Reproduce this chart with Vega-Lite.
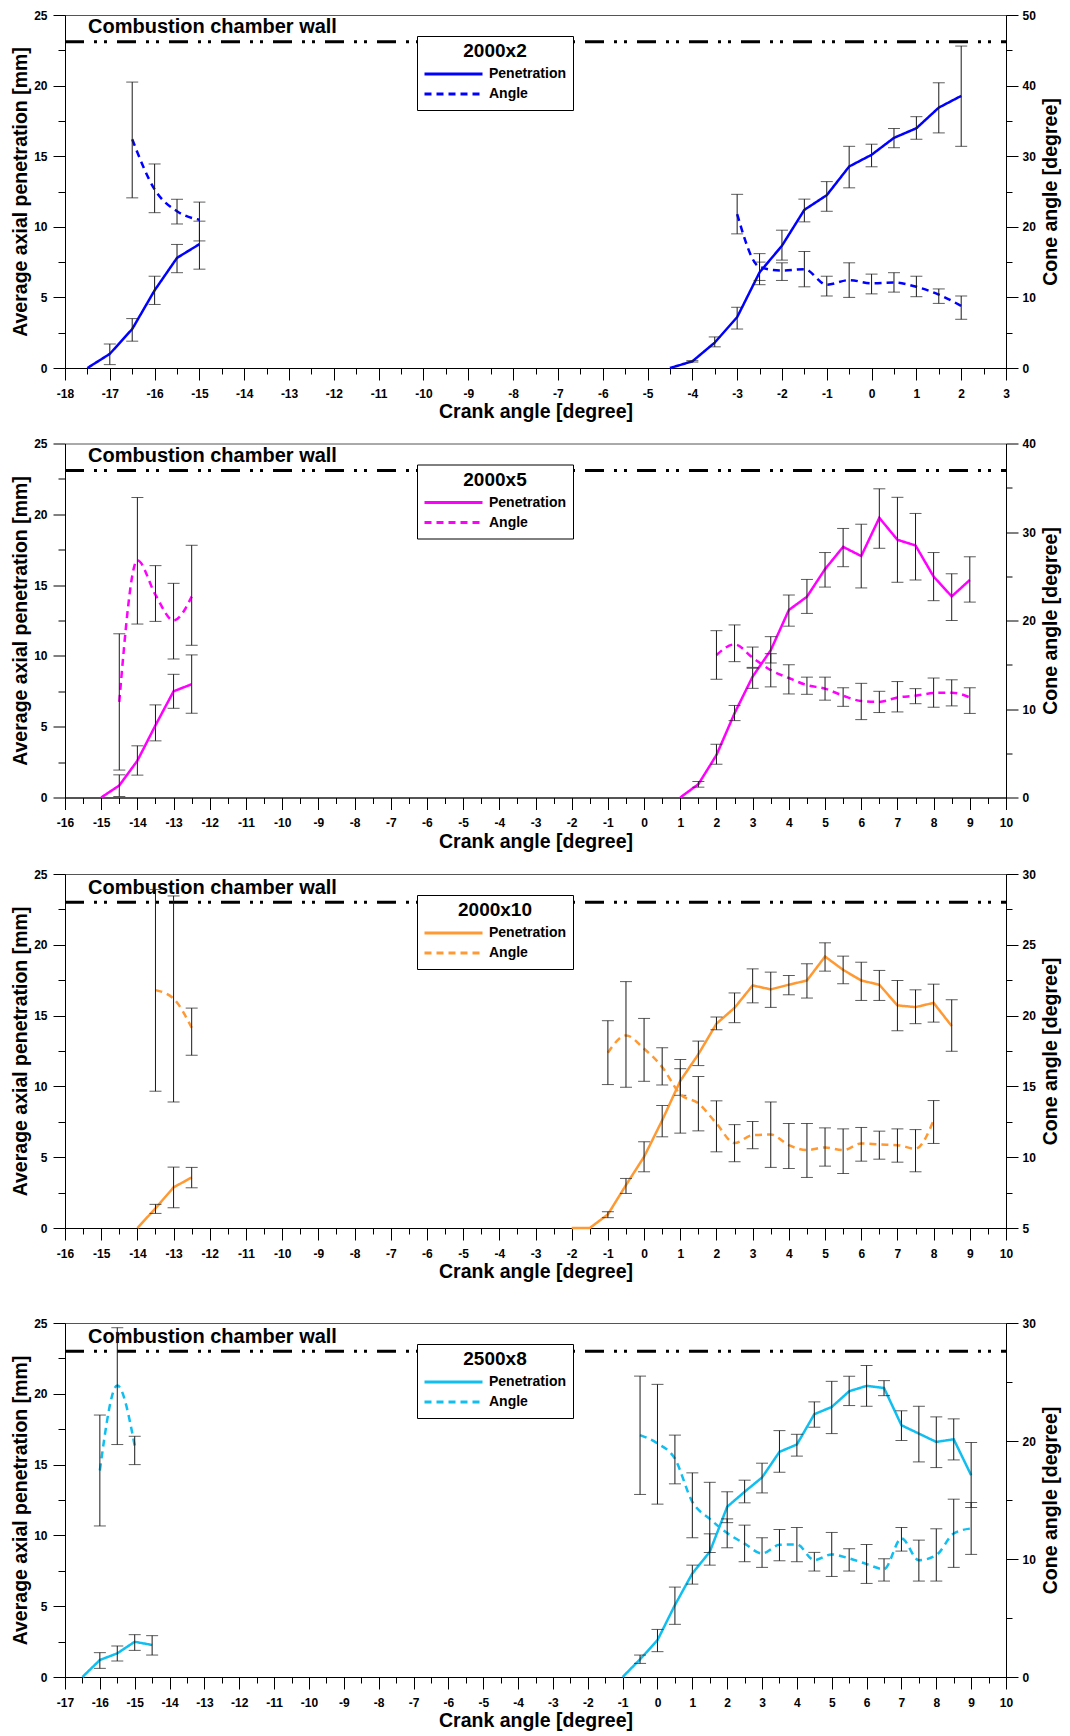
{
  "$schema": "https://vega.github.io/schema/vega-lite/v6.json",
  "padding": {"top": 8, "left": 9, "right": 4, "bottom": 4},
  "datasets": {
    "d2000x2": [
      {"series": "Penetration", "part": 1, "crank": -17.5, "value": 0},
      {"series": "Penetration", "part": 1, "crank": -17, "value": 1.0, "lo": 0.24, "hi": 1.7},
      {"series": "Penetration", "part": 1, "crank": -16.5, "value": 2.76, "lo": 1.9, "hi": 3.5},
      {"series": "Penetration", "part": 1, "crank": -16, "value": 5.5, "lo": 4.5, "hi": 6.5},
      {"series": "Penetration", "part": 1, "crank": -15.5, "value": 7.8, "lo": 6.75, "hi": 8.75},
      {"series": "Penetration", "part": 1, "crank": -15, "value": 8.77, "lo": 7.0, "hi": 10.4},
      {"series": "Penetration", "part": 2, "crank": -4.5, "value": 0},
      {"series": "Penetration", "part": 2, "crank": -4, "value": 0.47, "lo": 0.42, "hi": 0.52},
      {"series": "Penetration", "part": 2, "crank": -3.5, "value": 1.8, "lo": 1.5, "hi": 2.2},
      {"series": "Penetration", "part": 2, "crank": -3, "value": 3.6, "lo": 2.76, "hi": 4.3},
      {"series": "Penetration", "part": 2, "crank": -2.5, "value": 6.77, "lo": 5.9, "hi": 7.5},
      {"series": "Penetration", "part": 2, "crank": -2, "value": 8.66, "lo": 7.64, "hi": 9.76},
      {"series": "Penetration", "part": 2, "crank": -1.5, "value": 11.2, "lo": 10.35, "hi": 11.96},
      {"series": "Penetration", "part": 2, "crank": -1, "value": 12.24, "lo": 11.1, "hi": 13.2},
      {"series": "Penetration", "part": 2, "crank": -0.5, "value": 14.27, "lo": 12.76, "hi": 15.7},
      {"series": "Penetration", "part": 2, "crank": 0, "value": 15.1, "lo": 14.25, "hi": 15.85},
      {"series": "Penetration", "part": 2, "crank": 0.5, "value": 16.3, "lo": 15.6, "hi": 16.96},
      {"series": "Penetration", "part": 2, "crank": 1, "value": 16.98, "lo": 16.2, "hi": 17.8},
      {"series": "Penetration", "part": 2, "crank": 1.5, "value": 18.44, "lo": 16.65, "hi": 20.2},
      {"series": "Penetration", "part": 2, "crank": 2, "value": 19.27, "lo": 15.7, "hi": 22.8},
      {"series": "Angle", "part": 1, "crank": -16.5, "value": 32.4, "lo": 24.1, "hi": 40.5},
      {"series": "Angle", "part": 1, "crank": -16, "value": 25.3, "lo": 22.0, "hi": 28.9},
      {"series": "Angle", "part": 1, "crank": -15.5, "value": 22.2, "lo": 20.4, "hi": 23.9},
      {"series": "Angle", "part": 1, "crank": -15, "value": 21.0, "lo": 18.0, "hi": 23.5},
      {"series": "Angle", "part": 2, "crank": -3, "value": 21.8, "lo": 19.0, "hi": 24.6},
      {"series": "Angle", "part": 2, "crank": -2.5, "value": 14.3, "lo": 12.4, "hi": 16.2},
      {"series": "Angle", "part": 2, "crank": -2, "value": 13.8, "lo": 12.4, "hi": 14.9},
      {"series": "Angle", "part": 2, "crank": -1.5, "value": 14.0, "lo": 11.5, "hi": 16.5},
      {"series": "Angle", "part": 2, "crank": -1, "value": 11.8, "lo": 10.2, "hi": 13.0},
      {"series": "Angle", "part": 2, "crank": -0.5, "value": 12.45, "lo": 10.0, "hi": 14.9},
      {"series": "Angle", "part": 2, "crank": 0, "value": 12.0, "lo": 10.5, "hi": 13.3},
      {"series": "Angle", "part": 2, "crank": 0.5, "value": 12.1, "lo": 10.75, "hi": 13.5},
      {"series": "Angle", "part": 2, "crank": 1, "value": 11.5, "lo": 10.1, "hi": 13.0},
      {"series": "Angle", "part": 2, "crank": 1.5, "value": 10.4, "lo": 9.15, "hi": 11.2},
      {"series": "Angle", "part": 2, "crank": 2, "value": 8.8, "lo": 6.9, "hi": 10.2}
    ],
    "d2000x5": [
      {"series": "Penetration", "part": 1, "crank": -15, "value": 0},
      {"series": "Penetration", "part": 1, "crank": -14.5, "value": 0.85, "lo": 0.07, "hi": 1.6},
      {"series": "Penetration", "part": 1, "crank": -14, "value": 2.6, "lo": 1.58, "hi": 3.65},
      {"series": "Penetration", "part": 1, "crank": -13.5, "value": 5.1, "lo": 4.0, "hi": 6.54},
      {"series": "Penetration", "part": 1, "crank": -13, "value": 7.5, "lo": 6.3, "hi": 8.7},
      {"series": "Penetration", "part": 1, "crank": -12.5, "value": 8.0, "lo": 5.95, "hi": 10.07},
      {"series": "Penetration", "part": 2, "crank": 1, "value": 0},
      {"series": "Penetration", "part": 2, "crank": 1.5, "value": 0.94, "lo": 0.73, "hi": 1.13},
      {"series": "Penetration", "part": 2, "crank": 2, "value": 3.0, "lo": 2.35, "hi": 3.76},
      {"series": "Penetration", "part": 2, "crank": 2.5, "value": 5.95, "lo": 5.43, "hi": 6.5},
      {"series": "Penetration", "part": 2, "crank": 3, "value": 8.54, "lo": 7.71, "hi": 9.13},
      {"series": "Penetration", "part": 2, "crank": 3.5, "value": 10.4, "lo": 9.5, "hi": 11.36},
      {"series": "Penetration", "part": 2, "crank": 4, "value": 13.24, "lo": 12.1, "hi": 14.3},
      {"series": "Penetration", "part": 2, "crank": 4.5, "value": 14.18, "lo": 13.0, "hi": 15.4},
      {"series": "Penetration", "part": 2, "crank": 5, "value": 16.13, "lo": 14.86, "hi": 17.3},
      {"series": "Penetration", "part": 2, "crank": 5.5, "value": 17.7, "lo": 16.3, "hi": 19.0},
      {"series": "Penetration", "part": 2, "crank": 6, "value": 17.05, "lo": 14.8, "hi": 19.3},
      {"series": "Penetration", "part": 2, "crank": 6.5, "value": 19.75, "lo": 17.6, "hi": 21.8},
      {"series": "Penetration", "part": 2, "crank": 7, "value": 18.2, "lo": 15.2, "hi": 21.2},
      {"series": "Penetration", "part": 2, "crank": 7.5, "value": 17.8, "lo": 15.36, "hi": 20.06},
      {"series": "Penetration", "part": 2, "crank": 8, "value": 15.6, "lo": 13.9, "hi": 17.3},
      {"series": "Penetration", "part": 2, "crank": 8.5, "value": 14.2, "lo": 12.5, "hi": 15.8},
      {"series": "Penetration", "part": 2, "crank": 9, "value": 15.36, "lo": 13.8, "hi": 17.0},
      {"series": "Angle", "part": 1, "crank": -14.5, "value": 10.8, "lo": 3.1, "hi": 18.5},
      {"series": "Angle", "part": 1, "crank": -14, "value": 26.8, "lo": 19.6, "hi": 33.9},
      {"series": "Angle", "part": 1, "crank": -13.5, "value": 22.9, "lo": 19.9, "hi": 26.2},
      {"series": "Angle", "part": 1, "crank": -13, "value": 20.0, "lo": 15.65, "hi": 24.2},
      {"series": "Angle", "part": 1, "crank": -12.5, "value": 22.7, "lo": 17.2, "hi": 28.5},
      {"series": "Angle", "part": 2, "crank": 2, "value": 16.1, "lo": 13.36, "hi": 18.85},
      {"series": "Angle", "part": 2, "crank": 2.5, "value": 17.3, "lo": 15.35, "hi": 19.5},
      {"series": "Angle", "part": 2, "crank": 3, "value": 15.8, "lo": 14.7, "hi": 17.0},
      {"series": "Angle", "part": 2, "crank": 3.5, "value": 14.4, "lo": 12.5, "hi": 16.25},
      {"series": "Angle", "part": 2, "crank": 4, "value": 13.5, "lo": 11.7, "hi": 15.0},
      {"series": "Angle", "part": 2, "crank": 4.5, "value": 12.7, "lo": 11.66, "hi": 13.6},
      {"series": "Angle", "part": 2, "crank": 5, "value": 12.3, "lo": 11.0, "hi": 13.6},
      {"series": "Angle", "part": 2, "crank": 5.5, "value": 11.5, "lo": 10.3, "hi": 12.4},
      {"series": "Angle", "part": 2, "crank": 6, "value": 10.9, "lo": 8.8, "hi": 12.9},
      {"series": "Angle", "part": 2, "crank": 6.5, "value": 10.8, "lo": 9.6, "hi": 12.0},
      {"series": "Angle", "part": 2, "crank": 7, "value": 11.3, "lo": 9.67, "hi": 13.1},
      {"series": "Angle", "part": 2, "crank": 7.5, "value": 11.5, "lo": 10.6, "hi": 12.3},
      {"series": "Angle", "part": 2, "crank": 8, "value": 11.8, "lo": 10.2, "hi": 13.5},
      {"series": "Angle", "part": 2, "crank": 8.5, "value": 11.85, "lo": 10.35, "hi": 13.3},
      {"series": "Angle", "part": 2, "crank": 9, "value": 11.3, "lo": 9.5, "hi": 12.4}
    ],
    "d2000x10": [
      {"series": "Penetration", "part": 1, "crank": -14, "value": 0},
      {"series": "Penetration", "part": 1, "crank": -13.5, "value": 1.39, "lo": 1.03, "hi": 1.67},
      {"series": "Penetration", "part": 1, "crank": -13, "value": 2.87, "lo": 1.43, "hi": 4.3},
      {"series": "Penetration", "part": 1, "crank": -12.5, "value": 3.57, "lo": 2.84, "hi": 4.28},
      {"series": "Penetration", "part": 2, "crank": -2, "value": 0},
      {"series": "Penetration", "part": 2, "crank": -1.5, "value": 0},
      {"series": "Penetration", "part": 2, "crank": -1, "value": 0.96, "lo": 0.73, "hi": 1.15},
      {"series": "Penetration", "part": 2, "crank": -0.5, "value": 3.03, "lo": 2.44, "hi": 3.5},
      {"series": "Penetration", "part": 2, "crank": 0, "value": 5.03, "lo": 3.97, "hi": 6.09},
      {"series": "Penetration", "part": 2, "crank": 0.5, "value": 7.6, "lo": 6.44, "hi": 8.65},
      {"series": "Penetration", "part": 2, "crank": 1, "value": 10.39, "lo": 9.37, "hi": 11.25},
      {"series": "Penetration", "part": 2, "crank": 1.5, "value": 12.27, "lo": 11.47, "hi": 13.2},
      {"series": "Penetration", "part": 2, "crank": 2, "value": 14.43, "lo": 14.0, "hi": 14.9},
      {"series": "Penetration", "part": 2, "crank": 2.5, "value": 15.55, "lo": 14.5, "hi": 16.6},
      {"series": "Penetration", "part": 2, "crank": 3, "value": 17.13, "lo": 15.9, "hi": 18.3},
      {"series": "Penetration", "part": 2, "crank": 3.5, "value": 16.85, "lo": 15.58, "hi": 18.07},
      {"series": "Penetration", "part": 2, "crank": 4, "value": 17.18, "lo": 16.47, "hi": 17.83},
      {"series": "Penetration", "part": 2, "crank": 4.5, "value": 17.48, "lo": 16.24, "hi": 18.66},
      {"series": "Penetration", "part": 2, "crank": 5, "value": 19.17, "lo": 18.14, "hi": 20.14},
      {"series": "Penetration", "part": 2, "crank": 5.5, "value": 18.23, "lo": 17.25, "hi": 19.2},
      {"series": "Penetration", "part": 2, "crank": 6, "value": 17.48, "lo": 16.07, "hi": 18.77},
      {"series": "Penetration", "part": 2, "crank": 6.5, "value": 17.18, "lo": 16.07, "hi": 18.19},
      {"series": "Penetration", "part": 2, "crank": 7, "value": 15.72, "lo": 13.93, "hi": 17.48},
      {"series": "Penetration", "part": 2, "crank": 7.5, "value": 15.6, "lo": 14.43, "hi": 16.82},
      {"series": "Penetration", "part": 2, "crank": 8, "value": 15.9, "lo": 14.54, "hi": 17.22},
      {"series": "Penetration", "part": 2, "crank": 8.5, "value": 14.26, "lo": 12.48, "hi": 16.12},
      {"series": "Angle", "part": 1, "crank": -13.5, "value": 21.8, "lo": 14.66, "hi": 28.9},
      {"series": "Angle", "part": 1, "crank": -13, "value": 21.2, "lo": 13.9, "hi": 28.45},
      {"series": "Angle", "part": 1, "crank": -12.5, "value": 19.14, "lo": 17.2, "hi": 20.53},
      {"series": "Angle", "part": 2, "crank": -1, "value": 17.38, "lo": 15.13, "hi": 19.64},
      {"series": "Angle", "part": 2, "crank": -0.5, "value": 18.6, "lo": 14.94, "hi": 22.4},
      {"series": "Angle", "part": 2, "crank": 0, "value": 17.66, "lo": 15.36, "hi": 19.8},
      {"series": "Angle", "part": 2, "crank": 0.5, "value": 16.37, "lo": 15.1, "hi": 17.73},
      {"series": "Angle", "part": 2, "crank": 1, "value": 14.45, "lo": 11.7, "hi": 16.9},
      {"series": "Angle", "part": 2, "crank": 1.5, "value": 13.8, "lo": 11.86, "hi": 15.7},
      {"series": "Angle", "part": 2, "crank": 2, "value": 12.38, "lo": 10.38, "hi": 13.98},
      {"series": "Angle", "part": 2, "crank": 2.5, "value": 11.0, "lo": 9.68, "hi": 12.3},
      {"series": "Angle", "part": 2, "crank": 3, "value": 11.56, "lo": 10.6, "hi": 12.52},
      {"series": "Angle", "part": 2, "crank": 3.5, "value": 11.6, "lo": 9.28, "hi": 13.9},
      {"series": "Angle", "part": 2, "crank": 4, "value": 10.85, "lo": 9.2, "hi": 12.38},
      {"series": "Angle", "part": 2, "crank": 4.5, "value": 10.5, "lo": 8.57, "hi": 12.38},
      {"series": "Angle", "part": 2, "crank": 5, "value": 10.69, "lo": 9.37, "hi": 12.07},
      {"series": "Angle", "part": 2, "crank": 5.5, "value": 10.5, "lo": 8.85, "hi": 12.0},
      {"series": "Angle", "part": 2, "crank": 6, "value": 10.97, "lo": 9.72, "hi": 12.1},
      {"series": "Angle", "part": 2, "crank": 6.5, "value": 10.9, "lo": 9.86, "hi": 11.84},
      {"series": "Angle", "part": 2, "crank": 7, "value": 10.85, "lo": 9.65, "hi": 12.0},
      {"series": "Angle", "part": 2, "crank": 7.5, "value": 10.6, "lo": 8.97, "hi": 11.95},
      {"series": "Angle", "part": 2, "crank": 8, "value": 12.6, "lo": 10.97, "hi": 14.0}
    ],
    "d2500x8": [
      {"series": "Penetration", "part": 1, "crank": -16.5, "value": 0},
      {"series": "Penetration", "part": 1, "crank": -16, "value": 1.2, "lo": 0.61, "hi": 1.72},
      {"series": "Penetration", "part": 1, "crank": -15.5, "value": 1.67, "lo": 1.13, "hi": 2.19},
      {"series": "Penetration", "part": 1, "crank": -15, "value": 2.49, "lo": 1.88, "hi": 2.99},
      {"series": "Penetration", "part": 1, "crank": -14.5, "value": 2.26, "lo": 1.55, "hi": 2.92},
      {"series": "Penetration", "part": 2, "crank": -1, "value": 0},
      {"series": "Penetration", "part": 2, "crank": -0.5, "value": 1.25, "lo": 0.96, "hi": 1.55},
      {"series": "Penetration", "part": 2, "crank": 0, "value": 2.6, "lo": 1.79, "hi": 3.36},
      {"series": "Penetration", "part": 2, "crank": 0.5, "value": 5.08, "lo": 3.72, "hi": 6.35},
      {"series": "Penetration", "part": 2, "crank": 1, "value": 7.31, "lo": 6.56, "hi": 7.9},
      {"series": "Penetration", "part": 2, "crank": 1.5, "value": 8.84, "lo": 7.9, "hi": 10.11},
      {"series": "Penetration", "part": 2, "crank": 2, "value": 12.02, "lo": 10.9, "hi": 13.08},
      {"series": "Penetration", "part": 2, "crank": 2.5, "value": 13.08, "lo": 12.3, "hi": 13.9},
      {"series": "Penetration", "part": 2, "crank": 3, "value": 14.09, "lo": 13.0, "hi": 15.1},
      {"series": "Penetration", "part": 2, "crank": 3.5, "value": 15.9, "lo": 14.46, "hi": 17.4},
      {"series": "Penetration", "part": 2, "crank": 4, "value": 16.42, "lo": 15.6, "hi": 17.14},
      {"series": "Penetration", "part": 2, "crank": 4.5, "value": 18.56, "lo": 17.64, "hi": 19.43},
      {"series": "Penetration", "part": 2, "crank": 5, "value": 19.07, "lo": 17.19, "hi": 20.88},
      {"series": "Penetration", "part": 2, "crank": 5.5, "value": 20.18, "lo": 19.17, "hi": 21.24},
      {"series": "Penetration", "part": 2, "crank": 6, "value": 20.56, "lo": 19.12, "hi": 22.0},
      {"series": "Penetration", "part": 2, "crank": 6.5, "value": 20.41, "lo": 19.87, "hi": 20.93},
      {"series": "Penetration", "part": 2, "crank": 7, "value": 17.78, "lo": 16.7, "hi": 18.8},
      {"series": "Penetration", "part": 2, "crank": 7.5, "value": 17.19, "lo": 15.19, "hi": 19.12},
      {"series": "Penetration", "part": 2, "crank": 8, "value": 16.6, "lo": 14.79, "hi": 18.37},
      {"series": "Penetration", "part": 2, "crank": 8.5, "value": 16.79, "lo": 15.33, "hi": 18.23},
      {"series": "Penetration", "part": 2, "crank": 9, "value": 14.25, "lo": 11.97, "hi": 16.56},
      {"series": "Angle", "part": 1, "crank": -16, "value": 17.5, "lo": 12.8, "hi": 22.2},
      {"series": "Angle", "part": 1, "crank": -15.5, "value": 24.7, "lo": 19.7, "hi": 29.6},
      {"series": "Angle", "part": 1, "crank": -15, "value": 19.6, "lo": 18.0, "hi": 20.4},
      {"series": "Angle", "part": 2, "crank": -0.5, "value": 20.5, "lo": 15.47, "hi": 25.5},
      {"series": "Angle", "part": 2, "crank": 0, "value": 19.8, "lo": 14.65, "hi": 24.8},
      {"series": "Angle", "part": 2, "crank": 0.5, "value": 18.5, "lo": 16.37, "hi": 20.5},
      {"series": "Angle", "part": 2, "crank": 1, "value": 14.85, "lo": 11.8, "hi": 17.3},
      {"series": "Angle", "part": 2, "crank": 1.5, "value": 13.4, "lo": 10.55, "hi": 16.5},
      {"series": "Angle", "part": 2, "crank": 2, "value": 12.2, "lo": 10.95, "hi": 13.4},
      {"series": "Angle", "part": 2, "crank": 2.5, "value": 11.3, "lo": 9.77, "hi": 12.87},
      {"series": "Angle", "part": 2, "crank": 3, "value": 10.47, "lo": 9.29, "hi": 11.8},
      {"series": "Angle", "part": 2, "crank": 3.5, "value": 11.2, "lo": 9.85, "hi": 12.5},
      {"series": "Angle", "part": 2, "crank": 4, "value": 11.23, "lo": 9.77, "hi": 12.67},
      {"series": "Angle", "part": 2, "crank": 4.5, "value": 9.9, "lo": 8.98, "hi": 10.56},
      {"series": "Angle", "part": 2, "crank": 5, "value": 10.39, "lo": 8.52, "hi": 12.25},
      {"series": "Angle", "part": 2, "crank": 5.5, "value": 10.05, "lo": 8.98, "hi": 10.87},
      {"series": "Angle", "part": 2, "crank": 6, "value": 9.57, "lo": 7.93, "hi": 11.23},
      {"series": "Angle", "part": 2, "crank": 6.5, "value": 9.14, "lo": 8.13, "hi": 10.02},
      {"series": "Angle", "part": 2, "crank": 7, "value": 11.74, "lo": 10.67, "hi": 12.67},
      {"series": "Angle", "part": 2, "crank": 7.5, "value": 9.9, "lo": 8.13, "hi": 11.6},
      {"series": "Angle", "part": 2, "crank": 8, "value": 10.33, "lo": 8.13, "hi": 12.56},
      {"series": "Angle", "part": 2, "crank": 8.5, "value": 12.16, "lo": 9.29, "hi": 15.07},
      {"series": "Angle", "part": 2, "crank": 9, "value": 12.59, "lo": 10.39, "hi": 14.79}
    ]
  },
  "vconcat": [
    {
      "vconcat": [
        {
          "width": 941,
          "height": 353,
          "data": {"name": "d2000x2"},
          "encoding": {
            "x": {"field": "crank", "type": "quantitative", "title": "Crank angle [degree]",
              "scale": {"domain": [-18, 3], "nice": false, "zero": false},
              "axis": {"values": [-18, -17.5, -17, -16.5, -16, -15.5, -15, -14.5, -14, -13.5, -13, -12.5, -12, -11.5, -11, -10.5, -10, -9.5, -9, -8.5, -8, -7.5, -7, -6.5, -6, -5.5, -5, -4.5, -4, -3.5, -3, -2.5, -2, -1.5, -1, -0.5, 0, 0.5, 1, 1.5, 2, 2.5, 3],
                "labelExpr": "datum.value % 1 === 0 ? toString(datum.value) : ''",
                "tickSize": {"condition": {"test": "datum.value % 1 !== 0", "value": 6}, "value": 12}}}
          },
          "layer": [
            {
              "encoding": {
                "y": {"field": "value", "type": "quantitative", "title": "Average axial penetration [mm]",
                  "scale": {"domain": [0, 25], "nice": false, "zero": false},
                  "axis": {"values": [0, 2.5, 5, 7.5, 10, 12.5, 15, 17.5, 20, 22.5, 25],
                    "labelExpr": "datum.value % 5 === 0 ? toString(datum.value) : ''",
                    "tickSize": {"condition": {"test": "datum.value % 5 !== 0", "value": 7}, "value": 12}}}
              },
              "layer": [
                {
                  "data": {"values": [{"crank": -18, "crankEnd": 3, "value": 23.1, "label": "Combustion chamber wall"}]},
                  "mark": {"type": "rule", "color": "black", "strokeWidth": 3, "strokeDash": [19, 10, 3, 7, 3, 10]},
                  "encoding": {"x2": {"field": "crankEnd"}}
                },
                {
                  "data": {"values": [{"crank": -18, "crankEnd": 3, "value": 23.1, "label": "Combustion chamber wall"}]},
                  "mark": {"type": "text", "align": "left", "baseline": "alphabetic", "dx": 23, "dy": -8.5, "fontSize": 20, "fontWeight": "bold", "color": "black"},
                  "encoding": {"text": {"field": "label"}}
                },
                {
                  "transform": [{"filter": "datum.series === 'Penetration'"}],
                  "mark": {"type": "line", "color": "#0000FF", "strokeWidth": 2.5},
                  "encoding": {
                    "detail": {"field": "part"},
                    "strokeDash": {"field": "series", "type": "nominal",
                      "scale": {"domain": ["Penetration", "Angle"], "range": [[1, 0], [7, 5]]},
                      "legend": {"title": "2000x2", "symbolStrokeColor": "#0000FF"}}
                  }
                },
                {
                  "transform": [{"filter": "datum.series === 'Penetration' && isValid(datum.lo)"}],
                  "mark": {"type": "errorbar", "ticks": {"size": 12, "thickness": 1, "color": "#1a1a1a"}, "rule": {"color": "#1a1a1a", "strokeWidth": 1}},
                  "encoding": {
                    "y": {"field": "lo", "type": "quantitative", "title": "Average axial penetration [mm]", "scale": {"domain": [0, 25], "nice": false, "zero": false}},
                    "y2": {"field": "hi"}
                  }
                }
              ]
            },
            {
              "encoding": {
                "y": {"field": "value", "type": "quantitative", "title": "Cone angle [degree]",
                  "scale": {"domain": [0, 50], "nice": false, "zero": false},
                  "axis": {"values": [0, 5, 10, 15, 20, 25, 30, 35, 40, 45, 50],
                    "labelExpr": "datum.value % 10 === 0 ? toString(datum.value) : ''",
                    "tickSize": {"condition": {"test": "datum.value % 10 !== 0", "value": 6}, "value": 12}}}
              },
              "layer": [
                {
                  "transform": [{"filter": "datum.series === 'Angle'"}],
                  "mark": {"type": "line", "color": "#0000FF", "strokeWidth": 2.5, "interpolate": "monotone"},
                  "encoding": {
                    "detail": {"field": "part"},
                    "strokeDash": {"field": "series", "type": "nominal",
                      "scale": {"domain": ["Penetration", "Angle"], "range": [[1, 0], [7, 5]]},
                      "legend": {"title": "2000x2", "symbolStrokeColor": "#0000FF"}}
                  }
                },
                {
                  "transform": [{"filter": "datum.series === 'Angle' && isValid(datum.lo)"}],
                  "mark": {"type": "errorbar", "ticks": {"size": 12, "thickness": 1, "color": "#1a1a1a"}, "rule": {"color": "#1a1a1a", "strokeWidth": 1}},
                  "encoding": {
                    "y": {"field": "lo", "type": "quantitative", "title": "Cone angle [degree]", "scale": {"domain": [0, 50], "nice": false, "zero": false}},
                    "y2": {"field": "hi"}
                  }
                }
              ]
            }
          ],
          "resolve": {"scale": {"y": "independent"}}
        },
        {
          "width": 941,
          "height": 354,
          "data": {"name": "d2000x5"},
          "encoding": {
            "x": {"field": "crank", "type": "quantitative", "title": "Crank angle [degree]",
              "scale": {"domain": [-16, 10], "nice": false, "zero": false},
              "axis": {"values": [-16, -15.5, -15, -14.5, -14, -13.5, -13, -12.5, -12, -11.5, -11, -10.5, -10, -9.5, -9, -8.5, -8, -7.5, -7, -6.5, -6, -5.5, -5, -4.5, -4, -3.5, -3, -2.5, -2, -1.5, -1, -0.5, 0, 0.5, 1, 1.5, 2, 2.5, 3, 3.5, 4, 4.5, 5, 5.5, 6, 6.5, 7, 7.5, 8, 8.5, 9, 9.5, 10],
                "labelExpr": "datum.value % 1 === 0 ? toString(datum.value) : ''",
                "tickSize": {"condition": {"test": "datum.value % 1 !== 0", "value": 6}, "value": 12}}}
          },
          "layer": [
            {
              "encoding": {
                "y": {"field": "value", "type": "quantitative", "title": "Average axial penetration [mm]",
                  "scale": {"domain": [0, 25], "nice": false, "zero": false},
                  "axis": {"values": [0, 2.5, 5, 7.5, 10, 12.5, 15, 17.5, 20, 22.5, 25],
                    "labelExpr": "datum.value % 5 === 0 ? toString(datum.value) : ''",
                    "tickSize": {"condition": {"test": "datum.value % 5 !== 0", "value": 7}, "value": 12}}}
              },
              "layer": [
                {
                  "data": {"values": [{"crank": -16, "crankEnd": 10, "value": 23.1, "label": "Combustion chamber wall"}]},
                  "mark": {"type": "rule", "color": "black", "strokeWidth": 3, "strokeDash": [19, 10, 3, 7, 3, 10]},
                  "encoding": {"x2": {"field": "crankEnd"}}
                },
                {
                  "data": {"values": [{"crank": -16, "crankEnd": 10, "value": 23.1, "label": "Combustion chamber wall"}]},
                  "mark": {"type": "text", "align": "left", "baseline": "alphabetic", "dx": 23, "dy": -8.5, "fontSize": 20, "fontWeight": "bold", "color": "black"},
                  "encoding": {"text": {"field": "label"}}
                },
                {
                  "transform": [{"filter": "datum.series === 'Penetration'"}],
                  "mark": {"type": "line", "color": "#FF00FF", "strokeWidth": 2.5},
                  "encoding": {
                    "detail": {"field": "part"},
                    "strokeDash": {"field": "series", "type": "nominal",
                      "scale": {"domain": ["Penetration", "Angle"], "range": [[1, 0], [7, 5]]},
                      "legend": {"title": "2000x5", "symbolStrokeColor": "#FF00FF"}}
                  }
                },
                {
                  "transform": [{"filter": "datum.series === 'Penetration' && isValid(datum.lo)"}],
                  "mark": {"type": "errorbar", "ticks": {"size": 12, "thickness": 1, "color": "#1a1a1a"}, "rule": {"color": "#1a1a1a", "strokeWidth": 1}},
                  "encoding": {
                    "y": {"field": "lo", "type": "quantitative", "title": "Average axial penetration [mm]", "scale": {"domain": [0, 25], "nice": false, "zero": false}},
                    "y2": {"field": "hi"}
                  }
                }
              ]
            },
            {
              "encoding": {
                "y": {"field": "value", "type": "quantitative", "title": "Cone angle [degree]",
                  "scale": {"domain": [0, 40], "nice": false, "zero": false},
                  "axis": {"values": [0, 5, 10, 15, 20, 25, 30, 35, 40],
                    "labelExpr": "datum.value % 10 === 0 ? toString(datum.value) : ''",
                    "tickSize": {"condition": {"test": "datum.value % 10 !== 0", "value": 6}, "value": 12}}}
              },
              "layer": [
                {
                  "transform": [{"filter": "datum.series === 'Angle'"}],
                  "mark": {"type": "line", "color": "#FF00FF", "strokeWidth": 2.5, "interpolate": "monotone"},
                  "encoding": {
                    "detail": {"field": "part"},
                    "strokeDash": {"field": "series", "type": "nominal",
                      "scale": {"domain": ["Penetration", "Angle"], "range": [[1, 0], [7, 5]]},
                      "legend": {"title": "2000x5", "symbolStrokeColor": "#FF00FF"}}
                  }
                },
                {
                  "transform": [{"filter": "datum.series === 'Angle' && isValid(datum.lo)"}],
                  "mark": {"type": "errorbar", "ticks": {"size": 12, "thickness": 1, "color": "#1a1a1a"}, "rule": {"color": "#1a1a1a", "strokeWidth": 1}},
                  "encoding": {
                    "y": {"field": "lo", "type": "quantitative", "title": "Cone angle [degree]", "scale": {"domain": [0, 40], "nice": false, "zero": false}},
                    "y2": {"field": "hi"}
                  }
                }
              ]
            }
          ],
          "resolve": {"scale": {"y": "independent"}}
        }
      ],
      "spacing": 14.5,
      "resolve": {"scale": {"strokeDash": "independent"}, "legend": {"strokeDash": "independent"}}
    },
    {
      "vconcat": [
        {
          "width": 941,
          "height": 354,
          "data": {"name": "d2000x10"},
          "encoding": {
            "x": {"field": "crank", "type": "quantitative", "title": "Crank angle [degree]",
              "scale": {"domain": [-16, 10], "nice": false, "zero": false},
              "axis": {"values": [-16, -15.5, -15, -14.5, -14, -13.5, -13, -12.5, -12, -11.5, -11, -10.5, -10, -9.5, -9, -8.5, -8, -7.5, -7, -6.5, -6, -5.5, -5, -4.5, -4, -3.5, -3, -2.5, -2, -1.5, -1, -0.5, 0, 0.5, 1, 1.5, 2, 2.5, 3, 3.5, 4, 4.5, 5, 5.5, 6, 6.5, 7, 7.5, 8, 8.5, 9, 9.5, 10],
                "labelExpr": "datum.value % 1 === 0 ? toString(datum.value) : ''",
                "tickSize": {"condition": {"test": "datum.value % 1 !== 0", "value": 6}, "value": 12}}}
          },
          "layer": [
            {
              "encoding": {
                "y": {"field": "value", "type": "quantitative", "title": "Average axial penetration [mm]",
                  "scale": {"domain": [0, 25], "nice": false, "zero": false},
                  "axis": {"values": [0, 2.5, 5, 7.5, 10, 12.5, 15, 17.5, 20, 22.5, 25],
                    "labelExpr": "datum.value % 5 === 0 ? toString(datum.value) : ''",
                    "tickSize": {"condition": {"test": "datum.value % 5 !== 0", "value": 7}, "value": 12}}}
              },
              "layer": [
                {
                  "data": {"values": [{"crank": -16, "crankEnd": 10, "value": 23.0, "label": "Combustion chamber wall"}]},
                  "mark": {"type": "rule", "color": "black", "strokeWidth": 3, "strokeDash": [19, 10, 3, 7, 3, 10]},
                  "encoding": {"x2": {"field": "crankEnd"}}
                },
                {
                  "data": {"values": [{"crank": -16, "crankEnd": 10, "value": 23.0, "label": "Combustion chamber wall"}]},
                  "mark": {"type": "text", "align": "left", "baseline": "alphabetic", "dx": 23, "dy": -8.5, "fontSize": 20, "fontWeight": "bold", "color": "black"},
                  "encoding": {"text": {"field": "label"}}
                },
                {
                  "transform": [{"filter": "datum.series === 'Penetration'"}],
                  "mark": {"type": "line", "color": "#FF9933", "strokeWidth": 2.5},
                  "encoding": {
                    "detail": {"field": "part"},
                    "strokeDash": {"field": "series", "type": "nominal",
                      "scale": {"domain": ["Penetration", "Angle"], "range": [[1, 0], [7, 5]]},
                      "legend": {"title": "2000x10", "symbolStrokeColor": "#FF9933"}}
                  }
                },
                {
                  "transform": [{"filter": "datum.series === 'Penetration' && isValid(datum.lo)"}],
                  "mark": {"type": "errorbar", "ticks": {"size": 12, "thickness": 1, "color": "#1a1a1a"}, "rule": {"color": "#1a1a1a", "strokeWidth": 1}},
                  "encoding": {
                    "y": {"field": "lo", "type": "quantitative", "title": "Average axial penetration [mm]", "scale": {"domain": [0, 25], "nice": false, "zero": false}},
                    "y2": {"field": "hi"}
                  }
                }
              ]
            },
            {
              "encoding": {
                "y": {"field": "value", "type": "quantitative", "title": "Cone angle [degree]",
                  "scale": {"domain": [5, 30], "nice": false, "zero": false},
                  "axis": {"values": [5, 7.5, 10, 12.5, 15, 17.5, 20, 22.5, 25, 27.5, 30],
                    "labelExpr": "datum.value % 5 === 0 ? toString(datum.value) : ''",
                    "tickSize": {"condition": {"test": "datum.value % 5 !== 0", "value": 6}, "value": 12}}}
              },
              "layer": [
                {
                  "transform": [{"filter": "datum.series === 'Angle'"}],
                  "mark": {"type": "line", "color": "#FF9933", "strokeWidth": 2.5, "interpolate": "monotone"},
                  "encoding": {
                    "detail": {"field": "part"},
                    "strokeDash": {"field": "series", "type": "nominal",
                      "scale": {"domain": ["Penetration", "Angle"], "range": [[1, 0], [7, 5]]},
                      "legend": {"title": "2000x10", "symbolStrokeColor": "#FF9933"}}
                  }
                },
                {
                  "transform": [{"filter": "datum.series === 'Angle' && isValid(datum.lo)"}],
                  "mark": {"type": "errorbar", "ticks": {"size": 12, "thickness": 1, "color": "#1a1a1a"}, "rule": {"color": "#1a1a1a", "strokeWidth": 1}},
                  "encoding": {
                    "y": {"field": "lo", "type": "quantitative", "title": "Cone angle [degree]", "scale": {"domain": [5, 30], "nice": false, "zero": false}},
                    "y2": {"field": "hi"}
                  }
                }
              ]
            }
          ],
          "resolve": {"scale": {"y": "independent"}}
        },
        {
          "width": 941,
          "height": 354,
          "data": {"name": "d2500x8"},
          "encoding": {
            "x": {"field": "crank", "type": "quantitative", "title": "Crank angle [degree]",
              "scale": {"domain": [-17, 10], "nice": false, "zero": false},
              "axis": {"values": [-17, -16.5, -16, -15.5, -15, -14.5, -14, -13.5, -13, -12.5, -12, -11.5, -11, -10.5, -10, -9.5, -9, -8.5, -8, -7.5, -7, -6.5, -6, -5.5, -5, -4.5, -4, -3.5, -3, -2.5, -2, -1.5, -1, -0.5, 0, 0.5, 1, 1.5, 2, 2.5, 3, 3.5, 4, 4.5, 5, 5.5, 6, 6.5, 7, 7.5, 8, 8.5, 9, 9.5, 10],
                "labelExpr": "datum.value % 1 === 0 ? toString(datum.value) : ''",
                "tickSize": {"condition": {"test": "datum.value % 1 !== 0", "value": 6}, "value": 12}}}
          },
          "layer": [
            {
              "encoding": {
                "y": {"field": "value", "type": "quantitative", "title": "Average axial penetration [mm]",
                  "scale": {"domain": [0, 25], "nice": false, "zero": false},
                  "axis": {"values": [0, 2.5, 5, 7.5, 10, 12.5, 15, 17.5, 20, 22.5, 25],
                    "labelExpr": "datum.value % 5 === 0 ? toString(datum.value) : ''",
                    "tickSize": {"condition": {"test": "datum.value % 5 !== 0", "value": 7}, "value": 12}}}
              },
              "layer": [
                {
                  "data": {"values": [{"crank": -17, "crankEnd": 10, "value": 23.0, "label": "Combustion chamber wall"}]},
                  "mark": {"type": "rule", "color": "black", "strokeWidth": 3, "strokeDash": [19, 10, 3, 7, 3, 10]},
                  "encoding": {"x2": {"field": "crankEnd"}}
                },
                {
                  "data": {"values": [{"crank": -17, "crankEnd": 10, "value": 23.0, "label": "Combustion chamber wall"}]},
                  "mark": {"type": "text", "align": "left", "baseline": "alphabetic", "dx": 23, "dy": -8.5, "fontSize": 20, "fontWeight": "bold", "color": "black"},
                  "encoding": {"text": {"field": "label"}}
                },
                {
                  "transform": [{"filter": "datum.series === 'Penetration'"}],
                  "mark": {"type": "line", "color": "#10BEF0", "strokeWidth": 2.5},
                  "encoding": {
                    "detail": {"field": "part"},
                    "strokeDash": {"field": "series", "type": "nominal",
                      "scale": {"domain": ["Penetration", "Angle"], "range": [[1, 0], [7, 5]]},
                      "legend": {"title": "2500x8", "symbolStrokeColor": "#10BEF0"}}
                  }
                },
                {
                  "transform": [{"filter": "datum.series === 'Penetration' && isValid(datum.lo)"}],
                  "mark": {"type": "errorbar", "ticks": {"size": 12, "thickness": 1, "color": "#1a1a1a"}, "rule": {"color": "#1a1a1a", "strokeWidth": 1}},
                  "encoding": {
                    "y": {"field": "lo", "type": "quantitative", "title": "Average axial penetration [mm]", "scale": {"domain": [0, 25], "nice": false, "zero": false}},
                    "y2": {"field": "hi"}
                  }
                }
              ]
            },
            {
              "encoding": {
                "y": {"field": "value", "type": "quantitative", "title": "Cone angle [degree]",
                  "scale": {"domain": [0, 30], "nice": false, "zero": false},
                  "axis": {"values": [0, 5, 10, 15, 20, 25, 30],
                    "labelExpr": "datum.value % 10 === 0 ? toString(datum.value) : ''",
                    "tickSize": {"condition": {"test": "datum.value % 10 !== 0", "value": 6}, "value": 12}}}
              },
              "layer": [
                {
                  "transform": [{"filter": "datum.series === 'Angle'"}],
                  "mark": {"type": "line", "color": "#10BEF0", "strokeWidth": 2.5, "interpolate": "monotone"},
                  "encoding": {
                    "detail": {"field": "part"},
                    "strokeDash": {"field": "series", "type": "nominal",
                      "scale": {"domain": ["Penetration", "Angle"], "range": [[1, 0], [7, 5]]},
                      "legend": {"title": "2500x8", "symbolStrokeColor": "#10BEF0"}}
                  }
                },
                {
                  "transform": [{"filter": "datum.series === 'Angle' && isValid(datum.lo)"}],
                  "mark": {"type": "errorbar", "ticks": {"size": 12, "thickness": 1, "color": "#1a1a1a"}, "rule": {"color": "#1a1a1a", "strokeWidth": 1}},
                  "encoding": {
                    "y": {"field": "lo", "type": "quantitative", "title": "Cone angle [degree]", "scale": {"domain": [0, 30], "nice": false, "zero": false}},
                    "y2": {"field": "hi"}
                  }
                }
              ]
            }
          ],
          "resolve": {"scale": {"y": "independent"}}
        }
      ],
      "spacing": 34,
      "resolve": {"scale": {"strokeDash": "independent"}, "legend": {"strokeDash": "independent"}}
    }
  ],
  "spacing": 16,
  "resolve": {"scale": {"strokeDash": "independent"}, "legend": {"strokeDash": "independent"}},
  "config": {
    "font": "Liberation Sans",
    "view": {"stroke": "#555555", "strokeWidth": 1},
    "axis": {
      "grid": false,
      "labelFont": "Liberation Sans",
      "labelFontSize": 12,
      "labelFontWeight": "bold",
      "labelColor": "black",
      "titleFont": "Liberation Sans",
      "titleFontSize": 19.5,
      "titleFontWeight": "bold",
      "titleColor": "black",
      "domainColor": "black",
      "domainWidth": 1,
      "tickColor": "black",
      "tickWidth": 1,
      "labelOverlap": false,
      "labelFlush": false,
      "labelBound": false
    },
    "axisX": {"labelPadding": 8, "titlePadding": 3.5},
    "axisLeft": {"labelPadding": 6, "titlePadding": 3.5},
    "axisRight": {"labelPadding": 4, "titlePadding": 6, "titleAngle": 270, "titleBaseline": "top"},
    "legend": {
      "orient": "none",
      "legendX": 352,
      "legendY": 21,
      "direction": "vertical",
      "strokeColor": "black",
      "fillColor": "white",
      "padding": 6,
      "titleFont": "Liberation Sans",
      "titleFontSize": 19,
      "titleFontWeight": "bold",
      "titleColor": "black",
      "titleAnchor": "middle",
      "titleAlign": "center",
      "titlePadding": 3,
      "labelFont": "Liberation Sans",
      "labelFontSize": 14,
      "labelFontWeight": "bold",
      "labelColor": "black",
      "labelOffset": 5,
      "symbolType": "stroke",
      "symbolSize": 3364,
      "symbolStrokeWidth": 3,
      "clipHeight": 20,
      "rowPadding": 0
    }
  }
}
